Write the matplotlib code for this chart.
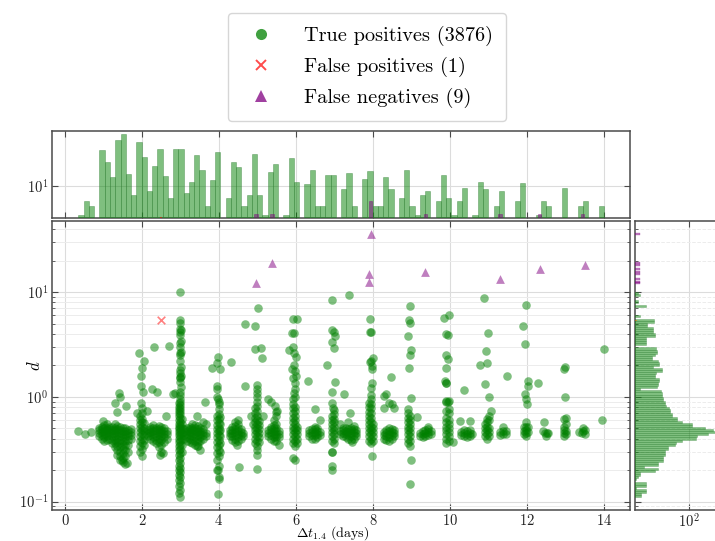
import numpy as np
import matplotlib
matplotlib.use("Agg")
import matplotlib.pyplot as plt
from matplotlib.lines import Line2D
from matplotlib.ticker import LogLocator, NullFormatter, NullLocator, FixedLocator

plt.rcParams['font.family'] = 'serif'
plt.rcParams['font.serif'] = ['cmr10']
plt.rcParams['mathtext.fontset'] = 'cm'
plt.rcParams['axes.formatter.use_mathtext'] = True
plt.rcParams['axes.unicode_minus'] = False

# ---------------- data ----------------
# true positives: dense columns/blobs, (dt, [d values])
tp_columns = [
    (0.88, [0.42, 0.45, 0.48, 0.51]),
    (0.95, [0.40, 0.43, 0.46, 0.49, 0.52]),
    (1.02, [0.38, 0.41, 0.44, 0.47, 0.50, 0.54]),
    (1.09, [0.39, 0.42, 0.45, 0.48, 0.51, 0.55]),
    (1.15, [0.40, 0.43, 0.46, 0.49, 0.52]),
    (1.22, [0.36, 0.39, 0.42, 0.45, 0.48, 0.52]),
    (1.29, [0.33, 0.36, 0.39, 0.42, 0.45, 0.48, 0.51, 0.55]),
    (1.36, [0.28, 0.31, 0.34, 0.37, 0.40, 0.43, 0.46, 0.49, 0.53]),
    (1.43, [0.25, 0.27, 0.30, 0.33, 0.36, 0.39, 0.42, 0.45, 0.48, 0.52]),
    (1.50, [0.24, 0.26, 0.29, 0.32, 0.35, 0.38, 0.41, 0.44, 0.47, 0.51]),
    (1.57, [0.23, 0.27, 0.31, 0.35, 0.38, 0.41, 0.44, 0.47, 0.50]),
    (1.64, [0.30, 0.35, 0.39, 0.42, 0.45, 0.48]),
    (1.71, [0.40, 0.43, 0.46, 0.49]),
    (1.96, [0.30, 0.34, 0.38, 0.42, 0.46, 0.50, 0.55, 0.60, 0.66]),
    (2.00, [0.27, 0.32, 0.36, 0.40, 0.44, 0.48, 0.52, 0.57, 0.62, 0.70, 0.78]),
    (2.04, [0.35, 0.39, 0.43, 0.47, 0.51, 0.56]),
    (2.15, [0.42, 0.45, 0.48]),
    (2.22, [0.40, 0.43, 0.46, 0.49, 0.52]),
    (2.29, [0.38, 0.41, 0.44, 0.47, 0.50, 0.54]),
    (2.36, [0.36, 0.39, 0.42, 0.45, 0.48, 0.51]),
    (2.43, [0.33, 0.37, 0.40, 0.43, 0.46, 0.49, 0.53]),
    (2.50, [0.30, 0.35, 0.39, 0.42, 0.45, 0.48, 0.52]),
    (2.57, [0.37, 0.41, 0.44, 0.47, 0.50]),
    (2.64, [0.40, 0.44, 0.47]),
    (2.96, [0.12, 0.14, 0.16, 0.18, 0.20, 0.22, 0.25, 0.28, 0.31, 0.34, 0.37, 0.40,
            0.43, 0.46, 0.49, 0.52, 0.55, 0.60, 0.65, 0.70, 0.75, 0.80, 0.87]),
    (3.00, [0.11, 0.13, 0.15, 0.17, 0.19, 0.21, 0.235, 0.26, 0.29, 0.32, 0.35, 0.38,
            0.41, 0.44, 0.47, 0.50, 0.54, 0.58, 0.63, 0.68, 0.73, 0.78, 0.84, 0.90, 0.96]),
    (3.04, [0.30, 0.35, 0.40, 0.45, 0.50, 0.55, 0.62]),
    (3.10, [0.40, 0.43, 0.46, 0.49]),
    (3.17, [0.38, 0.41, 0.44, 0.47, 0.50]),
    (3.24, [0.37, 0.40, 0.43, 0.46, 0.49, 0.52]),
    (3.31, [0.36, 0.39, 0.42, 0.45, 0.48, 0.51, 0.55]),
    (3.38, [0.35, 0.38, 0.41, 0.44, 0.47, 0.50, 0.54]),
    (3.45, [0.34, 0.37, 0.40, 0.43, 0.46, 0.49, 0.53]),
    (3.52, [0.38, 0.41, 0.44, 0.47, 0.50]),
    (3.59, [0.40, 0.43, 0.46, 0.49, 0.58]),
    (3.66, [0.42, 0.45, 0.55]),
    (3.96, [0.20, 0.25, 0.29, 0.33, 0.37, 0.41, 0.45, 0.49, 0.54, 0.60, 0.66]),
    (4.00, [0.17, 0.22, 0.27, 0.31, 0.35, 0.39, 0.43, 0.47, 0.51, 0.56, 0.62, 0.69, 0.76, 0.85]),
    (4.04, [0.30, 0.36, 0.42, 0.48, 0.55, 0.64]),
    (4.28, [0.42, 0.45, 0.48]),
    (4.35, [0.39, 0.42, 0.45, 0.48, 0.52]),
    (4.42, [0.37, 0.40, 0.43, 0.46, 0.49, 0.53, 0.57]),
    (4.49, [0.38, 0.41, 0.44, 0.47, 0.50, 0.55, 0.60]),
    (4.56, [0.40, 0.43, 0.46, 0.49]),
    (4.63, [0.42, 0.45]),
    (4.94, [0.36, 0.40, 0.44, 0.48, 0.52, 0.57, 0.63, 0.70, 0.78]),
    (4.98, [0.34, 0.38, 0.42, 0.46, 0.50, 0.55, 0.60, 0.66, 0.73, 0.81, 0.90, 1.00, 1.10, 1.20, 1.30]),
    (5.03, [0.37, 0.41, 0.45, 0.49, 0.54, 0.59]),
    (5.28, [0.42, 0.45, 0.48, 0.95]),
    (5.35, [0.40, 0.43, 0.46, 0.49, 0.52, 0.89]),
    (5.42, [0.38, 0.41, 0.44, 0.47, 0.50, 0.54, 0.60]),
    (5.49, [0.38, 0.41, 0.44, 0.47, 0.50, 0.55, 0.66, 0.72]),
    (5.56, [0.41, 0.44, 0.47]),
    (5.92, [0.26, 0.36, 0.40, 0.44, 0.48, 0.52, 0.57, 0.63, 0.70, 0.78, 0.86, 0.95]),
    (5.97, [0.25, 0.34, 0.38, 0.42, 0.46, 0.50, 0.55, 0.60, 0.66, 0.73, 0.80, 1.00, 1.20, 1.35]),
    (6.02, [0.36, 0.40, 0.44, 0.48, 0.52]),
    (6.35, [0.42, 0.45, 0.48]),
    (6.42, [0.40, 0.43, 0.46, 0.49]),
    (6.49, [0.40, 0.43, 0.46, 0.49, 0.52, 0.77]),
    (6.56, [0.41, 0.44, 0.47, 0.50]),
    (6.63, [0.43, 0.46, 0.60]),
    (6.95, [0.22, 0.30, 0.38, 0.42, 0.46, 0.50, 0.55, 0.60, 0.66]),
    (7.00, [0.36, 0.40, 0.44, 0.48, 0.52, 0.57, 0.62, 0.68, 0.75]),
    (7.15, [0.44, 0.47, 0.55]),
    (7.22, [0.42, 0.45, 0.48, 0.51]),
    (7.29, [0.41, 0.44, 0.47, 0.50]),
    (7.36, [0.40, 0.43, 0.46, 0.49, 0.58]),
    (7.43, [0.39, 0.42, 0.45, 0.48, 0.51]),
    (7.50, [0.40, 0.43, 0.46, 0.49, 0.53]),
    (7.57, [0.42, 0.45, 0.48]),
    (7.90, [0.38, 0.42, 0.46, 0.50, 0.55, 0.60, 0.66, 0.72, 0.80, 0.88]),
    (7.95, [0.36, 0.40, 0.44, 0.48, 0.52, 0.57, 0.63, 0.70, 0.78, 0.86, 0.95, 1.05]),
    (8.00, [0.38, 0.42, 0.46, 0.50, 0.55]),
    (8.28, [0.40, 0.43, 0.46, 1.02]),
    (8.35, [0.39, 0.42, 0.45, 0.48, 1.07]),
    (8.42, [0.38, 0.41, 0.44, 0.47, 0.50, 0.88]),
    (8.49, [0.40, 0.43, 0.46, 0.49, 0.85]),
    (8.56, [0.42, 0.45, 0.48]),
    (8.92, [0.36, 0.40, 0.44, 0.48, 0.52, 0.57, 0.63, 0.70, 0.77]),
    (8.97, [0.34, 0.38, 0.42, 0.46, 0.50, 0.55, 0.60, 0.66]),
    (9.22, [0.42, 0.45]),
    (9.29, [0.41, 0.44, 0.47]),
    (9.36, [0.42, 0.45, 0.48]),
    (9.43, [0.43, 0.46, 0.49, 0.52]),
    (9.50, [0.44, 0.47]),
    (9.90, [0.36, 0.40, 0.44, 0.48, 0.52, 0.57, 0.63, 0.73, 0.90, 0.92]),
    (9.97, [0.38, 0.42, 0.46, 0.50, 0.55, 0.60, 0.70, 0.92]),
    (10.30, [0.43, 0.46]),
    (10.37, [0.42, 0.45, 0.48]),
    (10.44, [0.41, 0.44, 0.47]),
    (10.51, [0.42, 0.45, 0.48]),
    (10.58, [0.44]),
    (10.90, [0.42, 0.46, 0.50, 0.55]),
    (10.97, [0.40, 0.44, 0.48, 0.52, 0.57, 0.62]),
    (11.02, [0.42, 0.46, 0.50, 0.60, 0.66]),
    (11.30, [0.43, 0.46]),
    (11.38, [0.44, 0.47, 0.52]),
    (11.46, [0.44, 0.47]),
    (11.92, [0.44, 0.47, 0.52]),
    (11.99, [0.42, 0.45, 0.48, 0.52, 0.57]),
    (12.04, [0.46, 0.52]),
    (12.97, [0.42, 0.45, 0.48, 0.52, 0.61]),
    (13.02, [0.44, 0.47, 0.55, 0.63]),
]

# true positives: isolated points
tp_sparse_dt = [0.35, 0.52, 0.67, 1.00, 1.30, 1.34, 1.58, 1.41, 1.44, 1.47, 1.60,
                1.91, 2.05, 1.99, 1.97, 1.98, 2.02, 1.97, 2.14, 1.88,
                2.30, 2.71, 2.27, 2.38, 2.80, 2.87, 2.47, 2.55, 2.62,
                2.99, 3.00, 3.00, 2.99, 3.01, 2.99, 3.00, 3.01, 2.99, 3.00, 3.01, 2.99,
                3.00, 2.99, 3.01, 3.00, 2.99, 3.01, 3.00, 2.99, 3.00, 3.01, 2.99, 3.00,
                3.42, 3.50, 3.64, 3.42,
                3.98, 3.95, 3.82, 4.02, 3.95, 3.94, 3.95, 3.98, 4.31, 3.98, 3.99, 3.98, 4.00,
                4.51, 4.68, 4.46,
                5.02, 4.68, 4.93, 4.94, 5.08, 5.13, 4.98, 5.00, 5.00, 4.83, 4.88, 5.15,
                5.46, 5.52, 5.55,
                5.93, 6.02, 5.90, 5.96, 5.83, 5.93, 5.95, 6.01, 5.94, 5.90, 5.97, 5.99,
                5.93, 6.32, 5.95,
                6.95, 6.95, 6.99, 7.01, 6.95, 6.99, 7.01, 6.93, 6.82, 6.95, 6.97, 6.93, 6.93,
                7.39, 7.25, 7.40, 7.45,
                7.92, 7.92, 7.94, 7.92, 7.95, 8.01, 7.98, 7.98, 7.96, 7.97, 7.98,
                8.46, 8.28, 8.55,
                8.96, 8.94, 8.96, 8.92, 8.98, 8.96, 8.94, 8.98, 9.00, 8.96, 9.14,
                9.84, 9.99, 9.90, 9.94, 9.91, 9.96, 9.91, 9.87, 9.90, 9.91, 9.96, 9.97, 10.07,
                10.26, 10.52, 10.37,
                10.89, 10.99, 10.93, 10.96, 10.77, 10.92, 11.01, 11.07,
                11.49,
                11.97, 11.91, 11.95, 12.04, 12.04, 11.95, 11.99, 12.00,
                12.30, 12.45, 12.48, 12.52, 12.56, 12.42, 12.50,
                12.98, 12.96, 12.98,
                13.35, 13.42, 13.47, 13.50, 13.52, 13.45,
                14.00, 13.96]
tp_sparse_d = [0.477, 0.44, 0.457, 0.59, 0.87, 0.71, 0.81, 1.08, 1.00, 0.25, 0.233,
               2.6, 2.2, 1.88, 1.57, 1.28, 1.12, 0.87, 0.74, 0.70,
               3.0, 3.06, 1.19, 1.12, 1.06, 1.08, 0.28, 0.29, 0.66,
               10.0, 5.4, 5.1, 4.5, 4.4, 4.2, 3.9, 3.4, 3.3, 3.0, 2.7, 2.65,
               2.5, 2.2, 1.95, 1.8, 1.7, 1.6, 1.55, 1.5, 1.4, 1.25, 1.12, 1.04,
               0.34, 0.31, 0.90, 0.65,
               2.43, 2.1, 1.88, 1.85, 1.26, 1.18, 1.0, 0.95, 2.15, 0.2, 0.166, 0.117, 0.9,
               0.216, 1.28, 0.35,
               7.1, 5.0, 4.8, 2.9, 2.95, 2.37, 0.31, 0.28, 0.204, 0.65, 0.55, 0.66,
               0.81, 0.74, 0.35,
               5.5, 5.6, 4.06, 4.1, 2.8, 3.0, 2.6, 2.4, 2.0, 1.85, 1.75, 1.6,
               1.5, 1.42, 1.1,
               8.4, 4.36, 4.2, 3.83, 3.37, 2.93, 1.40, 1.11, 2.04, 0.87, 0.78, 0.30, 0.20,
               9.4, 1.07, 0.70, 0.37,
               5.5, 4.2, 4.2, 2.17, 2.2, 2.35, 1.96, 1.85, 1.22, 1.35, 0.27,
               1.55, 0.78, 0.78,
               7.4, 5.4, 5.1, 3.8, 2.8, 2.5, 1.9, 0.97, 0.25, 0.148, 0.64,
               5.7, 6.0, 4.0, 3.9, 2.5, 2.3, 1.9, 1.41, 1.36, 1.36, 0.90, 0.77, 0.37,
               0.59, 0.59, 1.17,
               8.9, 4.1, 2.75, 2.13, 2.0, 1.33, 1.0, 0.74,
               1.6,
               7.5, 4.8, 3.2, 1.43, 1.26, 1.07, 0.95, 0.85,
               1.35, 0.57, 0.45, 0.45, 0.45, 0.47, 0.42,
               1.95, 1.85, 1.0,
               0.46, 0.45, 0.47, 0.44, 0.48, 0.50,
               2.85, 0.60]

# false positive
fp_dt = [2.50]
fp_d = [5.4]

# false negatives
fn_dt = [4.96, 5.38, 7.95, 7.90, 7.90, 9.36, 11.30, 12.33, 13.50]
fn_d = [12.2, 18.9, 35.8, 15.0, 12.6, 15.5, 13.4, 16.6, 18.1]

# top histogram (delta t): 100 bins between 0.35 and 14.0
dt_hist_range = (0.35, 14.0)
top_hist_tp = [3.36, 5.62, 4.64, 0, 40.3, 25.7, 14.1, 59.2, 74.4, 16.0,
               7.24, 55.3, 30.8, 8.45, 21.5, 41.9, 15.0, 6.46, 41.9, 41.9,
               7.73, 11.8, 32.8, 18.9, 4.64, 12.9, 37.3, 0, 6.46, 25.7,
               20.7, 4.64, 7.16, 34.1, 7.16, 3.36, 17.1, 23.3, 0, 3.36,
               30.0, 11.8, 0, 10.9, 18.9, 4.64, 4.64, 15.6, 15.6, 0,
               9.0, 16.5, 4.64, 0, 13.2, 18.2, 4.64, 4.64, 14.1, 9.0,
               0, 6.46, 18.5, 4.64, 3.36, 7.16, 8.45, 0, 5.62, 15.3,
               6.46, 3.36, 5.62, 9.37, 0, 3.36, 11.7, 9.0, 0, 4.64,
               8.45, 0, 0, 5.62, 11.3, 0, 0, 3.36, 5.62, 4.64,
               0, 0, 9.37, 0, 0, 4.64, 5.62, 0, 0, 4.64]
top_hist_fn_dt = [4.96, 5.38, 7.93, 9.36, 11.30, 12.33, 13.45]
top_hist_fn = [3.4, 3.4, 5.6, 3.4, 3.4, 3.4, 3.4]
top_hist_fp = [3.06]

# right histogram (d): 100 log bins between 0.111 and 10
d_hist_range = (0.111, 10.0)
right_hist_tp = [16, 16, 19.5, 19.5, 13, 19.5, 19.5, 0, 13, 14,
                 15, 15, 27, 30, 18, 30, 30, 37, 37, 37,
                 39, 39, 39, 44, 45, 58, 60, 75, 130, 135,
                 207, 268, 250, 183, 110, 110, 75, 62, 62, 51,
                 51, 48, 48, 47, 42, 40, 39, 37, 37, 35,
                 35, 34, 15, 29, 30, 30, 31, 31, 27, 27,
                 28, 35, 35, 25, 32, 32, 30, 24, 24, 27,
                 29, 29, 28, 0, 19.5, 19.5, 19.5, 19.5, 27, 27,
                 25, 25, 25, 20, 20, 26, 26, 0, 15, 0,
                 0, 0, 0, 19.5, 0, 14, 0, 0, 15, 14]
right_hist_fn = [15.1] * len(fn_d)
right_hist_fp = [13.5]

legend_labels = ["True positives (3876)", "False positives (1)", "False negatives (9)"]

# ---------------- flatten scatter data ----------------
tp_dt = list(tp_sparse_dt)
tp_d = list(tp_sparse_d)
for x, ds in tp_columns:
    tp_dt += [x] * len(ds)
    tp_d += ds

GREEN = 'green'
RED = 'red'
PURPLE = 'purple'
ALPHA = 0.5

fig = plt.figure(figsize=(7.15, 5.41), dpi=100)
W, H = 715.0, 541.0
ax = fig.add_axes([52.3 / W, (H - 510) / H, (630 - 52.3) / W, (510 - 221) / H])
axt = fig.add_axes([52.3 / W, (H - 218) / H, (630 - 52.3) / W, (218 - 130.7) / H], sharex=ax)
axr = fig.add_axes([635 / W, (H - 510) / H, 125 / W, (510 - 221) / H], sharey=ax)

spine_col = '#4a4a4a'
grid_kw = dict(color='#dcdcdc', linewidth=0.8)
for a in (ax, axt, axr):
    for s in a.spines.values():
        s.set_color(spine_col)
        s.set_linewidth(1.1)
    a.set_axisbelow(True)
    a.tick_params(which='both', direction='in', top=True, right=True,
                  colors=spine_col, labelcolor='#222222', labelsize=10.5, pad=3)
    a.tick_params(which='major', length=4)
    a.tick_params(which='minor', length=2)
ax.tick_params(axis='x', pad=2)
axr.tick_params(axis='x', pad=2)

# main scatter
ax.scatter(tp_dt, tp_d, s=38, c=GREEN, alpha=ALPHA, linewidths=0, zorder=3)
ax.scatter(fp_dt, fp_d, s=30, c=RED, alpha=ALPHA, marker='x', linewidths=1.2, zorder=4)
ax.scatter(fn_dt, fn_d, s=40, c=PURPLE, alpha=ALPHA, marker='^', linewidths=0, zorder=4)
ax.set_yscale('log')
ax.set_xlim(-0.33, 14.68)
ax.set_ylim(0.083, 48)
ax.set_xticks([0, 2, 4, 6, 8, 10, 12, 14])
ax.yaxis.set_major_locator(LogLocator(base=10))
ax.yaxis.set_minor_locator(LogLocator(base=10, subs=np.arange(2, 10)))
ax.yaxis.set_minor_formatter(NullFormatter())
ax.grid(True, which='major', **grid_kw)
ax.grid(True, which='minor', axis='y', color='#ececec', linewidth=0.7)
ax.set_xlabel(r'$\Delta t_{1.4}$ (days)', fontsize=10)
ax.xaxis.set_label_coords(0.486, -0.05)
ax.set_ylabel(r'$d$', fontsize=12)
ax.yaxis.set_label_coords(-0.016, 0.5)

# top histogram
dt_edges = np.linspace(dt_hist_range[0], dt_hist_range[1], len(top_hist_tp) + 1)
axt.bar(dt_edges[:-1], top_hist_tp, width=np.diff(dt_edges), align='edge',
        facecolor=GREEN, edgecolor='#2e7d32', linewidth=0.5, alpha=ALPHA, zorder=3)
fn_w = (max(fn_dt) - min(fn_dt)) / 100
axt.bar(top_hist_fn_dt, top_hist_fn, width=fn_w, align='center',
        facecolor=PURPLE, edgecolor=PURPLE, linewidth=0.5, alpha=ALPHA, zorder=4)
axt.bar(fp_dt, top_hist_fp, width=0.05, align='center', color=RED, alpha=ALPHA, zorder=4)
axt.set_yscale('log')
axt.set_ylim(2.96, 84.5)
axt.yaxis.set_major_locator(FixedLocator([10]))
axt.yaxis.set_minor_locator(NullLocator())
axt.tick_params(axis='x', labelbottom=False)
axt.grid(True, which='major', **grid_kw)

# right histogram
d_edges = np.geomspace(d_hist_range[0], d_hist_range[1], len(right_hist_tp) + 1)
axr.barh(d_edges[:-1], right_hist_tp, height=np.diff(d_edges), align='edge',
         facecolor=GREEN, edgecolor='#2e7d32', linewidth=0.4, alpha=ALPHA, zorder=3)
axr.barh(fn_d, right_hist_fn, height=[v * 0.045 for v in fn_d], align='center',
         facecolor=PURPLE, edgecolor=PURPLE, linewidth=0.3, alpha=ALPHA, zorder=4)
axr.barh(fp_d, right_hist_fp, height=[v * 0.03 for v in fp_d], align='center',
         color='#ff6a00', alpha=ALPHA, zorder=4)
axr.set_xscale('log')
axr.set_xlim(12.6, 1507)
axr.xaxis.set_major_locator(FixedLocator([100]))
axr.xaxis.set_minor_locator(NullLocator())
axr.tick_params(axis='y', labelleft=False)
axr.grid(True, which='major', **grid_kw)
axr.grid(True, which='minor', axis='y', color='#ececec', linewidth=0.7, linestyle='--')

# legend
handles = [
    Line2D([], [], linestyle='none', marker='o', markersize=8, markerfacecolor=GREEN,
           markeredgewidth=0, alpha=0.75),
    Line2D([], [], linestyle='none', marker='x', markersize=7, color=RED,
           markeredgewidth=1.4, alpha=0.7),
    Line2D([], [], linestyle='none', marker='^', markersize=8, markerfacecolor=PURPLE,
           markeredgewidth=0, alpha=0.75),
]
leg = fig.legend(handles, legend_labels, loc='upper center', bbox_to_anchor=(0.513, 0.976),
                 borderaxespad=0.0, fontsize=14.6, frameon=True, fancybox=True,
                 handletextpad=1.13, borderpad=0.65, labelspacing=0.52, handlelength=1.95)
leg.get_frame().set_edgecolor('#cccccc')
leg.get_frame().set_linewidth(1.0)

fig.savefig('out.png', dpi=100)
